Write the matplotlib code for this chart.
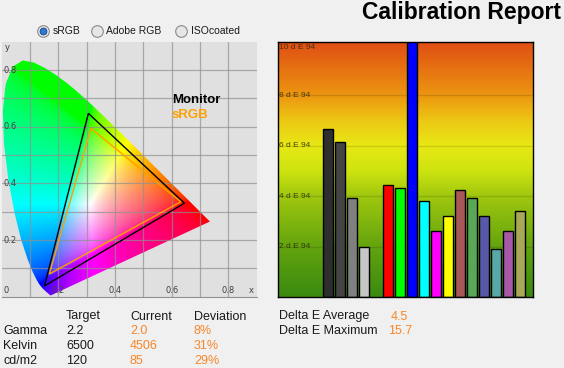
import numpy as np
import matplotlib.pyplot as plt
from matplotlib.colors import LinearSegmentedColormap
from matplotlib.patches import Polygon

plt.rcParams['font.family'] = ['Liberation Sans', 'DejaVu Sans']

# CIE 1931 spectral locus, 380..700 nm
locus_x = [0.1741, 0.1733, 0.1714, 0.1689, 0.1644, 0.1566, 0.1440, 0.1355, 0.1241,
           0.1096, 0.0913, 0.0687, 0.0454, 0.0235, 0.0082, 0.0039, 0.0139, 0.0389,
           0.0743, 0.1142, 0.1547, 0.1929, 0.2296, 0.2658, 0.3016, 0.3373, 0.3731,
           0.4087, 0.4441, 0.4788, 0.5125, 0.5448, 0.5752, 0.6029, 0.6270, 0.6482,
           0.6658, 0.6915, 0.7079, 0.7190, 0.7260, 0.7347]
locus_y = [0.0050, 0.0048, 0.0051, 0.0069, 0.0109, 0.0177, 0.0297, 0.0399, 0.0578,
           0.0868, 0.1327, 0.2007, 0.2950, 0.4127, 0.5384, 0.6548, 0.7502, 0.8120,
           0.8338, 0.8262, 0.8059, 0.7816, 0.7543, 0.7243, 0.6923, 0.6589, 0.6245,
           0.5896, 0.5547, 0.5202, 0.4866, 0.4544, 0.4242, 0.3965, 0.3725, 0.3514,
           0.3340, 0.3083, 0.2920, 0.2809, 0.2740, 0.2653]

# gamut triangles (R, G, B)
monitor_x = [0.645, 0.306, 0.151]
monitor_y = [0.330, 0.647, 0.038]
srgb_x = [0.632, 0.315, 0.168]
srgb_y = [0.335, 0.594, 0.080]

xy_ticks = [0.2, 0.4, 0.6, 0.8]

# delta E per patch
bar_pos = [0, 1, 2, 3, 5, 6, 7, 8, 9, 10, 11, 12, 13, 14, 15, 16]
de_values = [6.66, 6.15, 3.93, 1.99, 4.44, 4.32, 15.7, 3.81, 2.62, 3.21,
             4.24, 3.93, 3.21, 1.91, 2.62, 3.41]
bar_colors = ['#2e2e2e', '#444444', '#808080', '#c6c6c6', '#ff0000', '#00ff00',
              '#0000ff', '#00ffff', '#ff00ff', '#ffff00', '#a85858', '#58a858',
              '#5858a8', '#58a8a8', '#a858a8', '#a8a858']
de_ticks = [2, 4, 6, 8, 10]

row_names = ['Gamma', 'Kelvin', 'cd/m2']
target = ['2.2', '6500', '120']
current = ['2.0', '4506', '85']
deviation = ['8%', '31%', '29%']
de_avg = '4.5'
de_max = '15.7'

ORANGE = '#f7862a'
W, H = 564, 368

fig = plt.figure(figsize=(W / 100, H / 100), dpi=100, facecolor='#f0f0f0')

# ---- chromaticity diagram
ax = fig.add_axes([1.7 / W, (H - 296.7) / H, 255 / W, 255 / H])
ax.set_facecolor('#e0e0e0')
n = 450
gx, gy = np.meshgrid(np.linspace(0, 0.9, n), np.linspace(0, 0.9, n))
gys = np.maximum(gy, 1e-4)
XYZ = np.stack([gx / gys, np.ones_like(gx), (1 - gx - gy) / gys])
M = np.array([[3.2406, -1.5372, -0.4986],
              [-0.9689, 1.8758, 0.0415],
              [0.0557, -0.2040, 1.0570]])
rgb = np.einsum('ij,jkl->kli', M, XYZ)
rgb = np.clip(rgb, 0, None)
rgb = rgb / (rgb.max(axis=2, keepdims=True) + 1e-9)
rgb = rgb ** (1 / 2.2)
im = ax.imshow(rgb, extent=(0, 0.9, 0, 0.9), origin='lower',
               interpolation='bilinear', zorder=1)
poly = Polygon(np.column_stack([locus_x, locus_y]), closed=True,
               facecolor='none', edgecolor='none')
ax.add_patch(poly)
im.set_clip_path(poly)

for v in np.arange(0.1, 0.9, 0.1):
    ax.axvline(v, color='#909090', lw=0.9, alpha=0.7, zorder=2)
    ax.axhline(v, color='#909090', lw=0.9, alpha=0.7, zorder=2)

ax.fill(monitor_x, monitor_y, facecolor='none', edgecolor='black', lw=1, zorder=3)
ax.fill(srgb_x, srgb_y, facecolor='none', edgecolor='#ffa000', lw=1, zorder=3)

ax.set_xlim(0, 0.9)
ax.set_ylim(0, 0.9)
ax.set_xticks([])
ax.set_yticks([])
for s in ['top', 'left', 'right']:
    ax.spines[s].set_visible(False)
ax.spines['bottom'].set_color('#909090')

lab = dict(fontsize=6, color='#404040', family='DejaVu Sans', zorder=4)
for v in xy_ticks:
    ax.text(v, 0.006, f'{v:.1f}', ha='center', va='bottom', **lab)
    ax.text(0.008, v, f'{v:.1f}', ha='left', va='center', **lab)
ax.text(0.014, 0.006, '0', ha='center', va='bottom', **lab)
ax.text(0.882, 0.006, 'x', ha='center', va='bottom', **lab)
ax.text(0.018, 0.88, 'y', ha='center', va='center', **lab)

ax.text(0.6, 0.695, 'Monitor', fontsize=9.5, fontweight='bold', color='black',
        va='center', zorder=4)
ax.text(0.6, 0.64, 'sRGB', fontsize=9.5, fontweight='bold', color='#ffa000',
        va='center', zorder=4)

# ---- delta E bar chart
bx = fig.add_axes([278 / W, (H - 297) / H, 255.3 / W, 255 / H])
ytop = 10.1
xl = (-4.17, 17.11)
grad = LinearSegmentedColormap.from_list('de', [
    (0.0, (58 / 255, 138 / 255, 16 / 255)),
    (2 / ytop, (100 / 255, 164 / 255, 14 / 255)),
    (4 / ytop, (160 / 255, 200 / 255, 14 / 255)),
    (5 / ytop, (205 / 255, 228 / 255, 16 / 255)),
    (6 / ytop, (232 / 255, 232 / 255, 20 / 255)),
    (7 / ytop, (236 / 255, 200 / 255, 20 / 255)),
    (8 / ytop, (236 / 255, 150 / 255, 16 / 255)),
    (1.0, (224 / 255, 78 / 255, 20 / 255))])
bx.imshow(np.linspace(0, 1, 256).reshape(-1, 1), cmap=grad, origin='lower',
          extent=(xl[0], xl[1], 0, ytop), aspect='auto', zorder=0)
for t in de_ticks[:-1]:
    bx.axhline(t, color='black', alpha=0.12, lw=1, zorder=1)
bx.bar(bar_pos, de_values, width=0.78, color=bar_colors, edgecolor='black',
       lw=1, zorder=2)
for t in de_ticks:
    bx.text(xl[0] + 0.12, min(t, ytop - 0.2), f'{t} d E 94', fontsize=6,
            color='#2a2a10', alpha=0.85, ha='left', va='center', zorder=3)
bx.set_xlim(*xl)
bx.set_ylim(0, ytop)
bx.set_xticks([])
bx.set_yticks([])
for s in bx.spines.values():
    s.set_color('black')
    s.set_linewidth(1)

# ---- header, radio buttons and table (pixel overlay)
ui = fig.add_axes([0, 0, 1, 1], zorder=-1)
ui.set_xlim(0, W)
ui.set_ylim(H, 0)
ui.axis('off')

ui.text(561, 13, 'Calibration Report', fontsize=16.5, fontweight='bold',
        ha='right', va='center')

radio = [('sRGB', 43, True), ('Adobe RGB', 97, False), ('ISOcoated', 181, False)]
for name, cx, sel in radio:
    ui.scatter([cx], [30.5], s=70, facecolor='#e6e6e6', edgecolor='#8a8a8a',
               lw=0.8, zorder=2)
    if sel:
        ui.scatter([cx], [30.5], s=24, facecolor='#2a78d8', edgecolor='#123f80',
                   lw=0.6, zorder=3)
    ui.text(cx + 9.5, 30.5, name, fontsize=7.5, ha='left', va='center',
            color='#1a1a1a')

tf = dict(fontsize=9, va='center', ha='left')
ui.text(66, 316.5, 'Target', color='#1a1a1a', **tf)
ui.text(130, 316.5, 'Current', color='#1a1a1a', **tf)
ui.text(194, 316.5, 'Deviation', color='#1a1a1a', **tf)
for i, name in enumerate(row_names):
    y = 331.5 + 14.6 * i
    ui.text(3, y, name, color='#1a1a1a', **tf)
    ui.text(66, y, target[i], color='#1a1a1a', **tf)
    ui.text(130, y, current[i], color=ORANGE, **tf)
    ui.text(194, y, deviation[i], color=ORANGE, **tf)

ui.text(279, 316.5, 'Delta E Average', color='#1a1a1a', **tf)
ui.text(279, 331.5, 'Delta E Maximum', color='#1a1a1a', **tf)
ui.text(391, 316.5, de_avg, color=ORANGE, **tf)
ui.text(388, 331.5, de_max, color=ORANGE, **tf)

fig.savefig('out.png', dpi=100, facecolor=fig.get_facecolor())
